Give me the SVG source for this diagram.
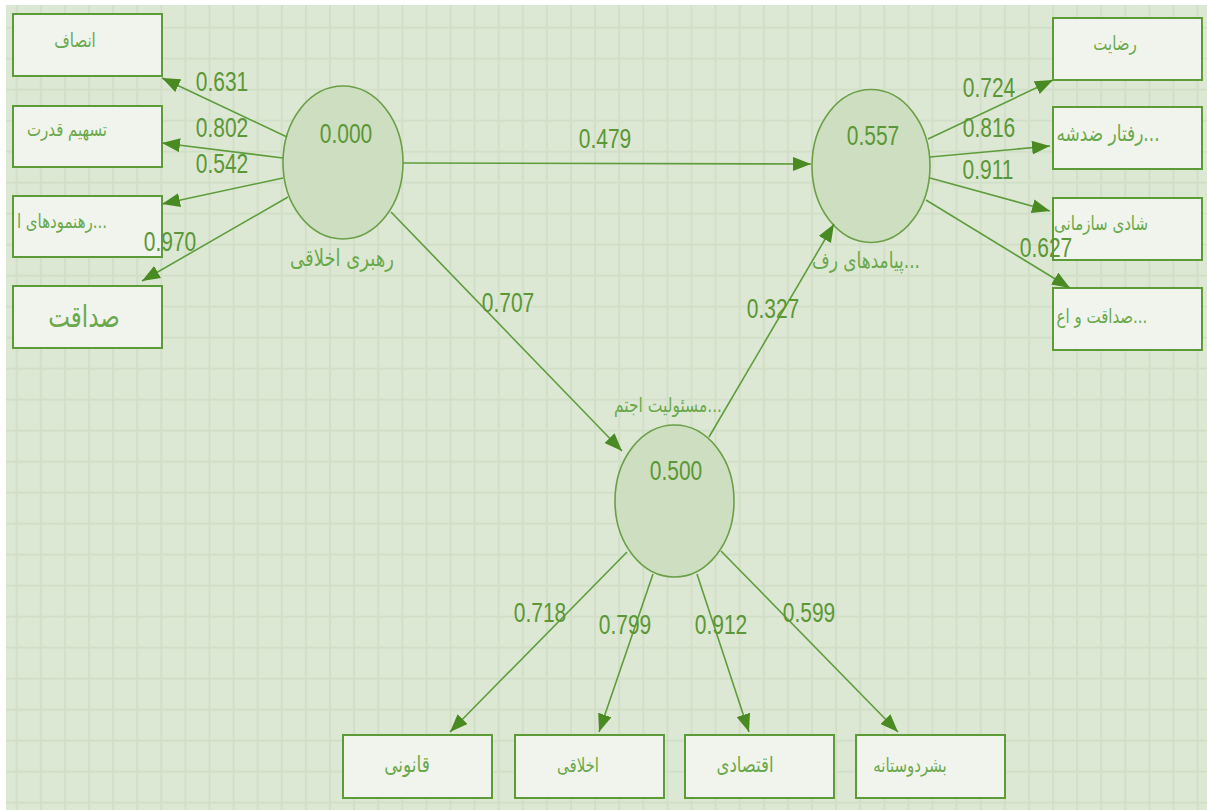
<svg xmlns="http://www.w3.org/2000/svg" width="1207" height="810" viewBox="0 0 1207 810">
  <style>
    .box { fill: #f0f4ec; stroke: #5c9b37; stroke-width: 2; }
    .lv { fill: #cddfc0; stroke: #6b9f48; stroke-width: 1.6; }
    .edge { fill: none; stroke: #5e9c3c; stroke-width: 1.6; marker-end: url(#arrow); }
    .num { font-family: "Liberation Sans", Arial, sans-serif; font-size: 21px; fill: #5b9736; text-anchor: middle; }
    .fa { font-family: "DejaVu Sans", "Noto Sans", sans-serif; font-size: 15px; fill: #6aa84c; text-anchor: middle; }
    .fa-big { font-size: 23px; }
  </style>
  <defs>
    <pattern id="grid" patternUnits="userSpaceOnUse" x="15.7" y="26.7" width="24.1" height="31">
      <rect width="24.1" height="31" fill="#dde8d4"/>
      <rect width="2" height="31" fill="#d2dfc8"/>
      <rect width="24.1" height="2" fill="#d2dfc8"/>
    </pattern>
    <marker id="arrow" markerUnits="userSpaceOnUse" markerWidth="18" markerHeight="14" refX="18" refY="7" orient="auto">
      <path d="M0,0 L18,7 L0,14 Z" fill="#4a8a22"/>
    </marker>
  </defs>

  <!-- canvas -->
  <rect width="1207" height="810" fill="#ffffff"/>
  <rect x="6" y="5" width="1201" height="805" fill="url(#grid)"/>

  <!-- latent variables -->
  <g id="ethical-leadership">
    <ellipse class="lv" cx="343" cy="162.5" rx="60" ry="76.5"/>
    <text class="num" transform="translate(346 143) scale(1 1.33)">0.000</text>
    <text class="fa" style="font-size:18px" transform="translate(342 266) scale(1 1.3)">رهبری اخلاقی</text>
  </g>
  <g id="outcomes">
    <ellipse class="lv" cx="871" cy="166" rx="59" ry="76.5"/>
    <text class="num" transform="translate(873 145) scale(1 1.33)">0.557</text>
    <text class="fa" style="font-size:17px" transform="translate(866 268) scale(1 1.3)">پیامدهای رف...</text>
  </g>
  <g id="social-responsibility">
    <ellipse class="lv" cx="674.5" cy="501" rx="59.5" ry="76"/>
    <text class="num" transform="translate(676 480) scale(1 1.33)">0.500</text>
    <text class="fa" style="font-size:15.5px" transform="translate(668 412) scale(1 1.3)">مسئولیت اجتم...</text>
  </g>

  <!-- indicators: ethical leadership -->
  <g id="ind-fairness">
    <rect class="box" x="13" y="14" width="149" height="62"/>
    <text class="fa" transform="translate(75 47) scale(1 1.3)">انصاف</text>
  </g>
  <g id="ind-power-sharing">
    <rect class="box" x="13" y="106" width="149" height="61"/>
    <text class="fa" transform="translate(67 136) scale(1 1.3)">تسهیم قدرت</text>
  </g>
  <g id="ind-guidance">
    <rect class="box" x="13" y="196" width="149" height="61"/>
    <text class="fa" transform="translate(62 228) scale(1 1.3)">رهنمودهای ا...</text>
  </g>
  <g id="ind-honesty">
    <rect class="box" x="13" y="286" width="149" height="62"/>
    <text class="fa fa-big" transform="translate(84 327) scale(1 1.3)">صداقت</text>
  </g>

  <!-- indicators: outcomes -->
  <g id="ind-satisfaction">
    <rect class="box" x="1053" y="18" width="149" height="62"/>
    <text class="fa" transform="translate(1115 50) scale(1 1.3)">رضایت</text>
  </g>
  <g id="ind-anti-citizenship">
    <rect class="box" x="1053" y="107" width="149" height="62"/>
    <text class="fa" style="font-size:17px" transform="translate(1108 141) scale(1 1.3)">رفتار ضدشه...</text>
  </g>
  <g id="ind-org-happiness">
    <rect class="box" x="1053" y="198" width="149" height="62"/>
    <text class="fa" transform="translate(1101 230) scale(1 1.3)">شادی سازمانی</text>
  </g>
  <g id="ind-honesty-integrity">
    <rect class="box" x="1053" y="288" width="149" height="62"/>
    <text class="fa" transform="translate(1102 323) scale(1 1.3)">صداقت و اع...</text>
  </g>

  <!-- indicators: social responsibility -->
  <g id="ind-legal">
    <rect class="box" x="343" y="735" width="149" height="63"/>
    <text class="fa" style="font-size:17px" transform="translate(407 772) scale(1 1.3)">قانونی</text>
  </g>
  <g id="ind-ethical">
    <rect class="box" x="515" y="735" width="149" height="63"/>
    <text class="fa" transform="translate(578 772) scale(1 1.3)">اخلاقی</text>
  </g>
  <g id="ind-economic">
    <rect class="box" x="685" y="735" width="149" height="63"/>
    <text class="fa" style="font-size:16.5px" transform="translate(745 772) scale(1 1.3)">اقتصادی</text>
  </g>
  <g id="ind-philanthropic">
    <rect class="box" x="856" y="735" width="149" height="63"/>
    <text class="fa" transform="translate(910 772) scale(1 1.3)">بشردوستانه</text>
  </g>

  <!-- connectors, drawn over the nodes so coefficients stay visible -->
  <g id="connectors">
    <line class="edge" x1="287" y1="137" x2="162" y2="78"/>
    <line class="edge" x1="283" y1="158" x2="162" y2="143"/>
    <line class="edge" x1="283" y1="178" x2="162" y2="204"/>
    <line class="edge" x1="288" y1="197" x2="142" y2="281"/>
    <line class="edge" x1="403" y1="163" x2="811" y2="164"/>
    <line class="edge" x1="391" y1="212" x2="622" y2="451"/>
    <line class="edge" x1="709" y1="437" x2="834" y2="224"/>
    <line class="edge" x1="928" y1="139" x2="1053" y2="80"/>
    <line class="edge" x1="930" y1="157" x2="1050" y2="146"/>
    <line class="edge" x1="930" y1="178" x2="1050" y2="211"/>
    <line class="edge" x1="926" y1="200" x2="1070" y2="288"/>
    <line class="edge" x1="627" y1="552" x2="450" y2="732"/>
    <line class="edge" x1="653" y1="574" x2="599" y2="732"/>
    <line class="edge" x1="697" y1="574" x2="749" y2="732"/>
    <line class="edge" x1="721" y1="551" x2="898" y2="732"/>

    <!-- path coefficients -->
    <text class="num" transform="translate(222 91) scale(1 1.33)">0.631</text>
    <text class="num" transform="translate(222 137) scale(1 1.33)">0.802</text>
    <text class="num" transform="translate(222 173) scale(1 1.33)">0.542</text>
    <text class="num" transform="translate(170 251) scale(1 1.33)">0.970</text>
    <text class="num" transform="translate(605 148) scale(1 1.33)">0.479</text>
    <text class="num" transform="translate(508 312) scale(1 1.33)">0.707</text>
    <text class="num" transform="translate(773 318) scale(1 1.33)">0.327</text>
    <text class="num" transform="translate(989 97) scale(1 1.33)">0.724</text>
    <text class="num" transform="translate(989 137) scale(1 1.33)">0.816</text>
    <text class="num" transform="translate(988 179) scale(1 1.33)">0.911</text>
    <text class="num" transform="translate(1046 257) scale(1 1.33)">0.627</text>
    <text class="num" transform="translate(540 622) scale(1 1.33)">0.718</text>
    <text class="num" transform="translate(625 634) scale(1 1.33)">0.799</text>
    <text class="num" transform="translate(721 634) scale(1 1.33)">0.912</text>
    <text class="num" transform="translate(809 622) scale(1 1.33)">0.599</text>
  </g>
</svg>
